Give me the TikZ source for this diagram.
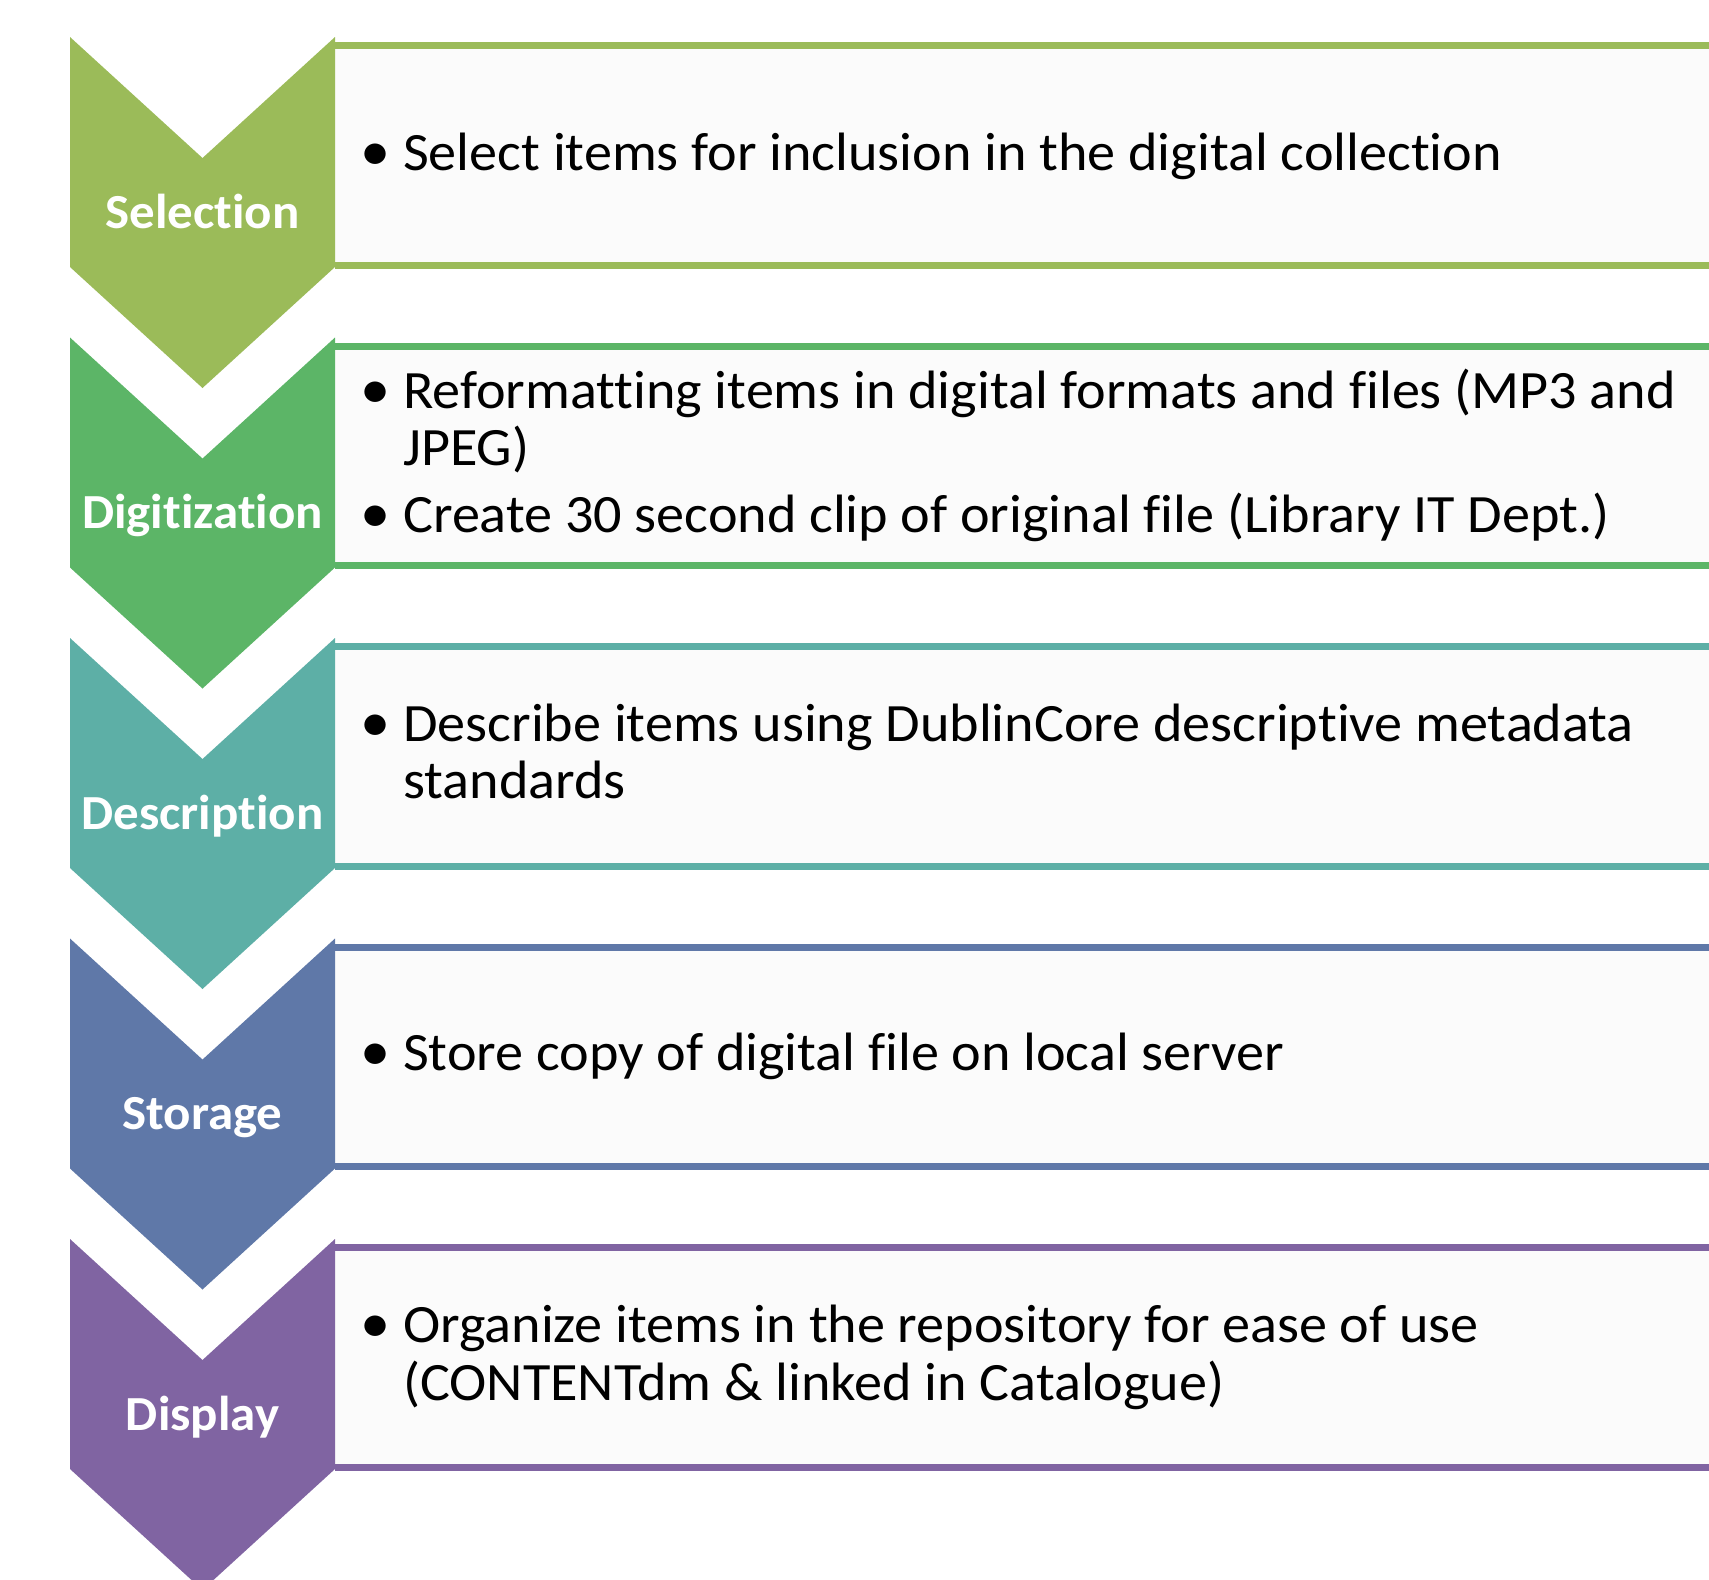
\documentclass[tikz,border=0pt]{standalone}
\usepackage{fontspec}
\setmainfont{Carlito}
\newfontfamily\bodyfont[FakeStretch=1.04,RawFeature={-liga;-clig;-calt;-dlig}]{Carlito}
\newfontfamily\labelfont[FakeStretch=1.04,RawFeature={-liga;-clig;-calt;-dlig}]{Carlito}
\definecolor{cSel}{HTML}{9BBB59}
\definecolor{cDig}{HTML}{5CB567}
\definecolor{cDes}{HTML}{5DAFA6}
\definecolor{cSto}{HTML}{5F78A8}
\definecolor{cDis}{HTML}{8064A2}
\definecolor{boxfill}{HTML}{FBFBFB}
\tikzset{
  bodytext/.style={anchor=base west, inner sep=0pt, font=\bodyfont\fontsize{54}{57}\selectfont, text=black},
  bullettext/.style={anchor=base, inner sep=0pt, font=\bodyfont\fontsize{58}{57}\selectfont, text=black},
  chevlabel/.style={anchor=base, inner sep=0pt, font=\labelfont\bfseries\fontsize{49}{52}\selectfont, text=white},
}
\newcommand\stagebox[2]{% #1 = top y, #2 = colour
  \fill[boxfill] (335,{#1+8.5}) rectangle (1720,{#1+228});
  \draw[#2, line width=7pt] (335,{#1+8.5}) -- (1720,{#1+8.5});
  \draw[#2, line width=7pt] (335,{#1+228}) -- (1720,{#1+228});
  \fill[#2] (70,#1) -- (202.5,{#1+121}) -- (335,#1) -- (335,{#1+230})
     -- (202.5,{#1+351}) -- (70,{#1+230}) -- cycle;
}
\begin{document}
\begin{tikzpicture}[x=1pt,y=-1pt]
\useasboundingbox (0,0) rectangle (1709,1580);
\begin{scope}
\clip (0,0) rectangle (1709,1580);
\stagebox{37}{cSel}
\stagebox{337.5}{cDig}
\stagebox{638}{cDes}
\stagebox{938.5}{cSto}
\stagebox{1239}{cDis}
\end{scope}
% labels
\node[chevlabel] (lsel) at (202.5,228) {Selection};
\node[chevlabel] (ldig) at (202.5,528.5) {Digitization};
\node[chevlabel] (ldes) at (202.5,829) {Description};
\node[chevlabel] (lsto) at (202.5,1129.5) {Storage};
\node[chevlabel] (ldis) at (202.5,1430) {Display};
% Selection
\node[bullettext] (bsel) at (376,170) {•};
\node[bodytext] (tsel) at (403,170) {Select items for inclusion in the digital collection};
% Digitization
\node[bullettext] (bdig1) at (376,408) {•};
\node[bodytext] (tdig1) at (403,408) {Reformatting items in digital formats and files (MP3 and};
\node[bodytext] (tdig2) at (403,465) {JPEG)};
\node[bullettext] (bdig2) at (376,532) {•};
\node[bodytext] (tdig3) at (403,532) {Create 30 second clip of original file (Library IT Dept.)};
% Description
\node[bullettext] (bdes) at (376,741) {•};
\node[bodytext] (tdes1) at (403,741) {Describe items using DublinCore descriptive metadata};
\node[bodytext] (tdes2) at (403,798) {standards};
% Storage
\node[bullettext] (bsto) at (376,1070.5) {•};
\node[bodytext] (tsto) at (403,1070.5) {Store copy of digital file on local server};
% Display
\node[bullettext] (bdis) at (376,1342) {•};
\node[bodytext] (tdis1) at (403,1342) {Organize items in the repository for ease of use};
\node[bodytext] (tdis2) at (403,1400) {(CONTENTdm \& linked in Catalogue)};
\end{tikzpicture}
\end{document}
